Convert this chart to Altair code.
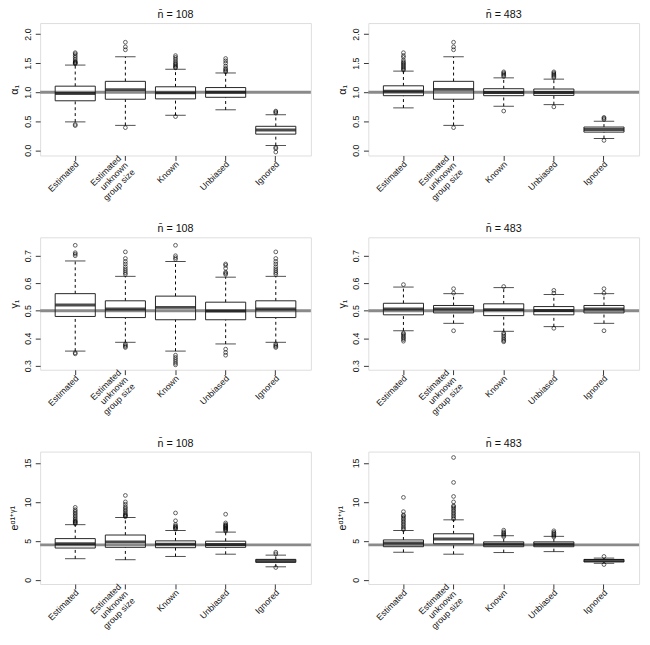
import altair as alt
import pandas as pd

CATS = ["Estimated", "Estimated\nunknown\ngroup size", "Known", "Unbiased", "Ignored"]

# ---- alpha_1, n = 108
A108_Q1 = [0.852, 0.879, 0.885, 0.912, 0.278]
A108_MED = [0.978, 1.044, 0.989, 0.998, 0.350]
A108_Q3 = [1.104, 1.187, 1.093, 1.080, 0.413]
A108_LO = [0.489, 0.429, 0.603, 0.697, 0.083]
A108_HI = [1.467, 1.610, 1.395, 1.331, 0.612]
A108_OUT = [
    [1.49, 1.50, 1.51, 1.52, 1.54, 1.57, 1.60, 1.63, 1.66, 1.68, 0.445, 0.425],
    [1.73, 1.78, 1.86, 0.39],
    [1.42, 1.43, 1.45, 1.47, 1.49, 1.51, 1.54, 1.57, 1.60, 1.63, 0.58],
    [1.35, 1.37, 1.39, 1.41, 1.45, 1.50, 1.54, 1.58],
    [0.64, 0.66, 0.675, 0.05, 0.03, -0.03],
]

# ---- alpha_1, n = 483
A483_Q1 = [0.940, 0.879, 0.940, 0.945, 0.313]
A483_MED = [1.016, 1.048, 0.995, 0.995, 0.357]
A483_Q3 = [1.110, 1.187, 1.060, 1.055, 0.400]
A483_LO = [0.730, 0.429, 0.758, 0.786, 0.203]
A483_HI = [1.363, 1.610, 1.247, 1.225, 0.500]
A483_OUT = [
    [1.38, 1.40, 1.42, 1.44, 1.46, 1.48, 1.50, 1.52, 1.55, 1.60, 1.63, 1.68],
    [1.73, 1.78, 1.86, 0.39],
    [1.27, 1.29, 1.31, 1.33, 1.35, 0.676],
    [1.25, 1.27, 1.29, 1.31, 1.33, 1.35, 0.747],
    [0.53, 0.55, 0.566, 0.17],
]

# ---- gamma_1, n = 108
G108_Q1 = [0.479, 0.475, 0.467, 0.467, 0.475]
G108_MED = [0.521, 0.506, 0.512, 0.499, 0.506]
G108_Q3 = [0.562, 0.536, 0.553, 0.531, 0.536]
G108_LO = [0.353, 0.385, 0.353, 0.379, 0.385]
G108_HI = [0.681, 0.625, 0.679, 0.622, 0.625]
G108_OUT = [
    [0.700, 0.706, 0.711, 0.738, 0.347, 0.343],
    [0.632, 0.638, 0.645, 0.652, 0.660, 0.670, 0.679, 0.690, 0.714, 0.379, 0.374, 0.370, 0.366],
    [0.687, 0.693, 0.700, 0.738, 0.338, 0.330, 0.323, 0.316, 0.309, 0.303],
    [0.632, 0.636, 0.640, 0.654, 0.665, 0.670, 0.360, 0.348, 0.338],
    [0.632, 0.638, 0.645, 0.652, 0.660, 0.670, 0.679, 0.690, 0.714, 0.379, 0.374, 0.370, 0.366],
]

# ---- gamma_1, n = 483
G483_Q1 = [0.485, 0.492, 0.482, 0.485, 0.492]
G483_MED = [0.506, 0.506, 0.504, 0.501, 0.506]
G483_Q3 = [0.527, 0.519, 0.525, 0.515, 0.519]
G483_LO = [0.427, 0.454, 0.425, 0.442, 0.454]
G483_HI = [0.586, 0.562, 0.584, 0.559, 0.562]
G483_OUT = [
    [0.595, 0.419, 0.415, 0.410, 0.405, 0.400, 0.395, 0.389],
    [0.564, 0.580, 0.427],
    [0.588, 0.419, 0.414, 0.408, 0.402, 0.396, 0.391, 0.387],
    [0.564, 0.574, 0.436],
    [0.564, 0.580, 0.427],
]

# ---- exp(alpha_1 + gamma_1), n = 108
E108_Q1 = [4.08, 4.17, 4.125, 4.17, 2.25]
E108_MED = [4.62, 4.875, 4.58, 4.54, 2.42]
E108_Q3 = [5.29, 5.75, 5.00, 4.96, 2.625]
E108_LO = [2.71, 2.58, 3.00, 3.29, 1.67]
E108_HI = [7.08, 8.00, 6.33, 6.125, 3.17]
E108_OUT = [
    [7.2, 7.3, 7.4, 7.5, 7.6, 7.8, 8.0, 8.2, 8.4, 8.6, 8.8, 9.0, 9.3],
    [8.1, 8.2, 8.3, 8.4, 8.6, 8.8, 9.0, 9.2, 9.4, 9.7, 10.0, 10.83],
    [6.5, 6.6, 6.7, 6.8, 6.9, 7.1, 7.58, 8.58],
    [6.25, 6.4, 6.5, 6.6, 6.7, 6.8, 6.9, 7.0, 7.1, 7.3, 8.42],
    [3.33, 3.54, 1.58],
]

# ---- exp(alpha_1 + gamma_1), n = 483
E483_Q1 = [4.25, 4.62, 4.25, 4.25, 2.29]
E483_MED = [4.72, 5.25, 4.58, 4.56, 2.46]
E483_Q3 = [5.12, 5.91, 4.87, 4.87, 2.62]
E483_LO = [3.54, 3.29, 3.50, 3.62, 2.12]
E483_HI = [6.33, 7.70, 5.66, 5.58, 2.79]
E483_OUT = [
    [6.45, 6.6, 6.8, 7.0, 7.2, 7.4, 7.6, 7.8, 8.0, 8.2, 8.33, 8.75, 10.58],
    [7.8, 8.0, 8.2, 8.4, 8.6, 8.8, 9.0, 9.2, 9.4, 9.5, 10.0, 10.7, 12.5, 15.7],
    [5.54, 5.7, 5.85, 6.0, 6.15, 6.37],
    [5.5, 5.65, 5.8, 5.95, 6.1, 6.29],
    [3.0, 1.96],
]

TITLES = ["n\u0304 = 108", "n\u0304 = 483"]
YTITLES = ["\u03b1\u2081", "\u03b3\u2081", "e\u1d45\u00b9\u207a\u1d5e\u00b9"]
REFS = [1.0, 0.5, 4.4817]
DOMAINS = [[-0.09, 2.19], [0.285, 0.767], [-0.54, 16.46]]
TICKS = [[0.0, 0.5, 1.0, 1.5, 2.0], [0.3, 0.4, 0.5, 0.6, 0.7], [0, 5, 10, 15]]
FMTS = [".1f", ".1f", "d"]

FONT = "Liberation Sans"
W, H = 278, 136
MULTI = "indexof(datum.value, 'unknown') >= 0"


def panel(q1, med, q3, lo, hi, outs, title, ytitle, domain, ticks, fmt, ref):
    box = pd.DataFrame({"cat": CATS, "q1": q1, "med": med, "q3": q3, "lo": lo, "hi": hi})
    out = pd.DataFrame([(c, v) for c, vs in zip(CATS, outs) for v in vs], columns=["cat", "v"])
    refdf = pd.DataFrame({"ref": [ref]})

    xs = alt.Scale(domain=CATS, paddingInner=0.2, paddingOuter=0.3)
    xaxis = alt.Axis(labelAngle=-45, labelAlign="right", labelBaseline="middle",
                     labelExpr="split(datum.label, '\\n')", tickSize=5, domain=False,
                     grid=False,
                     labelPadding={"condition": {"test": MULTI, "value": -4}, "value": 2},
                     labelOffset={"condition": {"test": MULTI, "value": -6}, "value": 2},
                     labelFontSize=9, labelLineHeight=10,
                     tickColor="#333333", labelColor="#111111")
    x = alt.X("cat:N", scale=xs, axis=xaxis, title=None, sort=CATS)
    ys = alt.Scale(domain=domain, nice=False, zero=False)
    yaxis = alt.Axis(values=ticks, format=fmt, labelAngle=-90, labelAlign="center",
                     labelBaseline="bottom", tickSize=5, domain=False, grid=False,
                     labelPadding=3, labelFontSize=9, titleFontSize=11,
                     titleFontWeight="normal", titlePadding=4, tickColor="#333333",
                     labelColor="#111111", titleColor="#111111")

    def Y(field):
        return alt.Y(field, scale=ys, axis=yaxis, title=ytitle)

    base = alt.Chart(box)
    ref_rule = alt.Chart(refdf).mark_rule(color="#8a8a8a", strokeWidth=3).encode(y=Y("ref:Q"))
    upper = base.mark_rule(color="black", strokeWidth=1, strokeDash=[3, 3]).encode(
        x=x, y=Y("q3:Q"), y2="hi:Q")
    lower = base.mark_rule(color="black", strokeWidth=1, strokeDash=[3, 3]).encode(
        x=x, y=Y("lo:Q"), y2="q1:Q")
    cap_hi = base.mark_tick(color="black", size=21, thickness=1).encode(x=x, y=Y("hi:Q"))
    cap_lo = base.mark_tick(color="black", size=21, thickness=1).encode(x=x, y=Y("lo:Q"))
    boxes = base.mark_bar(fillOpacity=0, stroke="#222222", strokeWidth=1).encode(
        x=x, y=Y("q1:Q"), y2="q3:Q")
    medians = base.mark_tick(color="black", size=41, thickness=3).encode(x=x, y=Y("med:Q"))
    points = alt.Chart(out).mark_point(shape="circle", filled=False, size=15,
                                       color="black", strokeWidth=0.9).encode(x=x, y=Y("v:Q"))

    return alt.layer(ref_rule, upper, lower, cap_hi, cap_lo, boxes, medians, points).properties(
        width=W, height=H,
        title=alt.TitleParams(title, fontSize=11, fontWeight="normal", font=FONT,
                              offset=3, frame="group", anchor="middle", color="#111111"))


DATA = [
    [(A108_Q1, A108_MED, A108_Q3, A108_LO, A108_HI, A108_OUT),
     (A483_Q1, A483_MED, A483_Q3, A483_LO, A483_HI, A483_OUT)],
    [(G108_Q1, G108_MED, G108_Q3, G108_LO, G108_HI, G108_OUT),
     (G483_Q1, G483_MED, G483_Q3, G483_LO, G483_HI, G483_OUT)],
    [(E108_Q1, E108_MED, E108_Q3, E108_LO, E108_HI, E108_OUT),
     (E483_Q1, E483_MED, E483_Q3, E483_LO, E483_HI, E483_OUT)],
]

rows = []
for r in range(3):
    panels = [panel(*DATA[r][c], TITLES[c], YTITLES[r], DOMAINS[r], TICKS[r], FMTS[r], REFS[r])
              for c in range(2)]
    rows.append(alt.hconcat(*panels, spacing=24))

chart = alt.vconcat(*rows, spacing=20).properties(
    padding={"left": 0, "top": -8, "right": 1, "bottom": 0}
).configure_view(stroke="#333333", strokeWidth=1).configure_axis(
    labelFont=FONT, titleFont=FONT
).configure(background="white")

chart.save("out.html", embed_options={"renderer": "svg", "actions": False})
